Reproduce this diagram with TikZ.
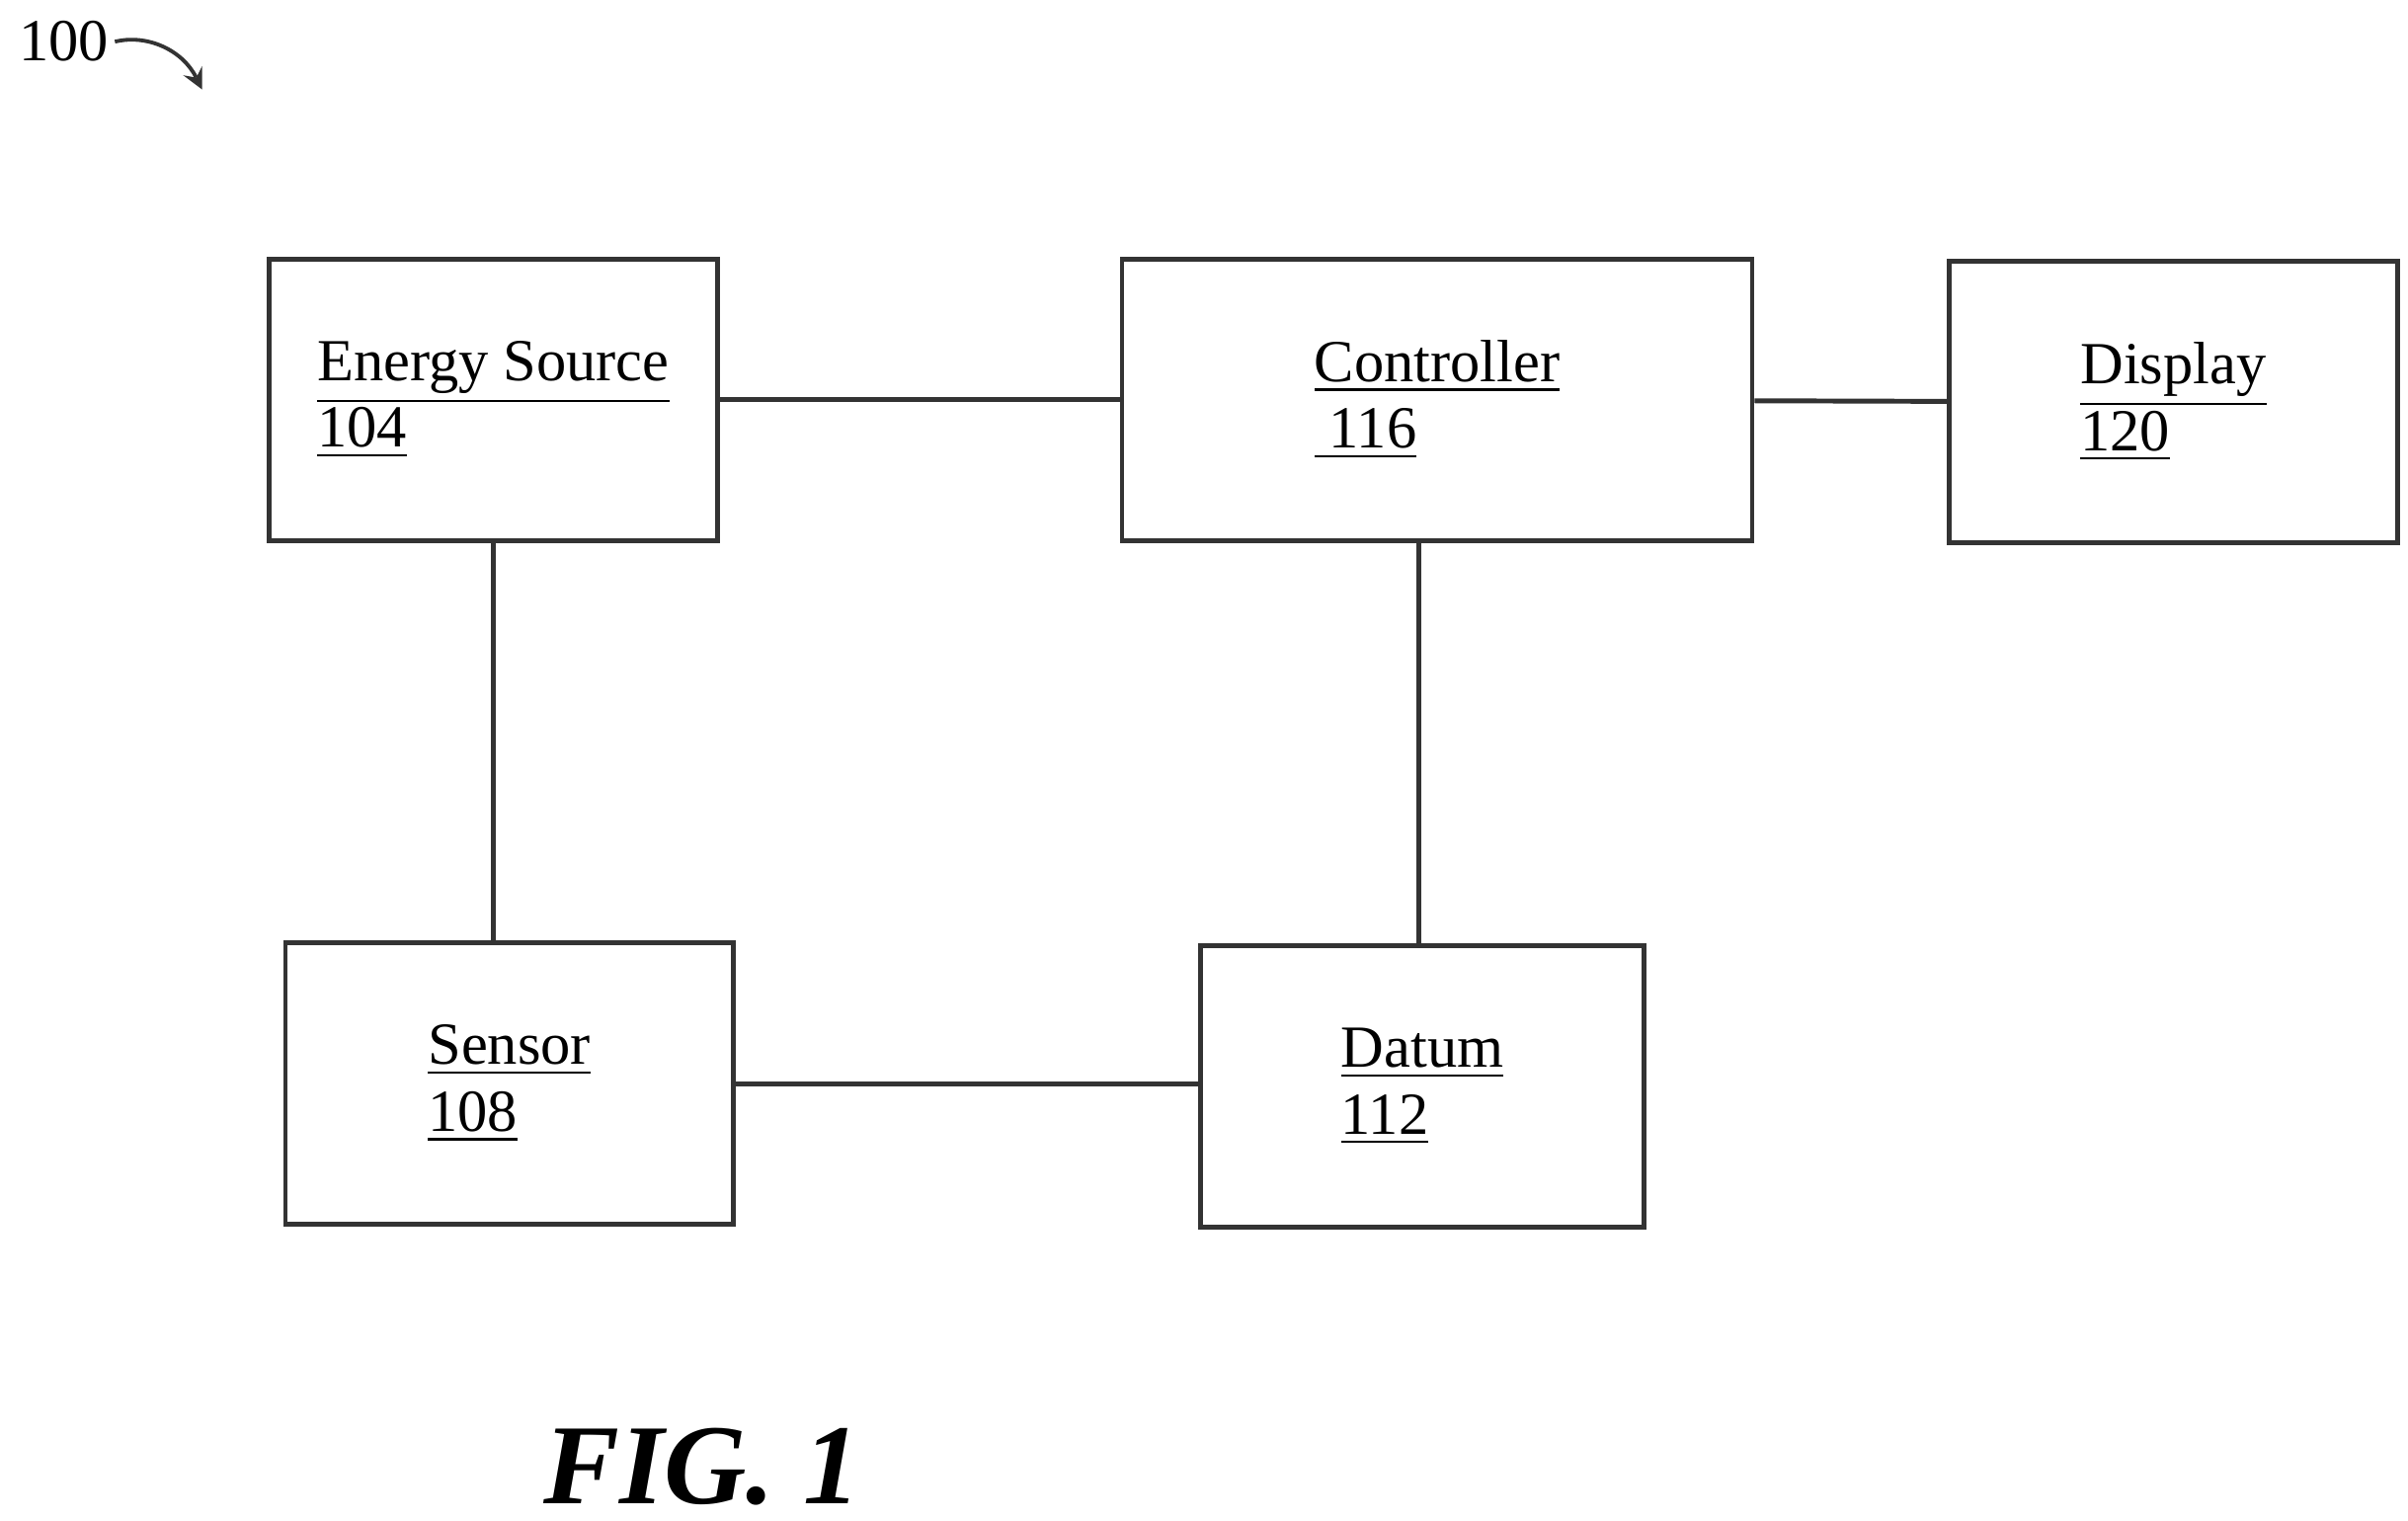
\documentclass[tikz,border=0pt]{standalone}
\usepackage{fontspec}
\setmainfont{Liberation Serif}
\usetikzlibrary{arrows, positioning}
\tikzset{
	block/.style={
		rectangle,
		minimum width=2.9cm,
		minimum height=1.82cm,
		align=left,
		draw=black!80,
		line width=0.9pt,
		font=\fontsize{11}{12.3}\selectfont
	},
	link/.style={black!80, line width=0.9pt},
	arrow/.style={black!80, line width=0.7pt, ->, >=stealth}
}
\begin{document}
\begin{tikzpicture}[x=0.01cm, y=-0.01cm]
				\useasboundingbox (0,0) rectangle (1560,985);
				\node (es) [block] at (319.5,259) {\underline{Energy Source}\\\underline{104}};
				\node (ctrl) [block, minimum width=4.08cm] at (931,259) {\underline{Controller}\\\underline{\ 116}};
				\node (disp) [block] at (1408,260.5) {\underline{Display}\\\underline{120}};
				\node (sensor) [block] at (330,702) {\underline{Sensor}\\\underline{108}};
				\node (datum) [block, minimum width=2.87cm] at (921.5,704) {\underline{Datum}\\\underline{112}};
				
				\node (ref) [font=\fontsize{11}{12}\selectfont, anchor=west, inner sep=1pt] at (8,27) {100};
				\coordinate (reftip) at (131,58);
				\node (fig) [font=\fontsize{21}{24}\selectfont\bfseries\itshape] at (455,950) {FIG. 1};
				
				\draw [link] (es) -- (ctrl);
				\draw [link] (ctrl) -- (disp);
				\draw [link] (es.south) -- (es.south |- sensor.north);
				\draw [link] ([xshift=-0.12cm]ctrl.south) -- ([xshift=-0.12cm]ctrl.south |- datum.north);
				\draw [link] (sensor) -- (sensor -| datum.west);
				\draw [arrow] (ref.east) .. controls (95,22) and (118,32) .. (reftip);
			\end{tikzpicture}
\end{document}
